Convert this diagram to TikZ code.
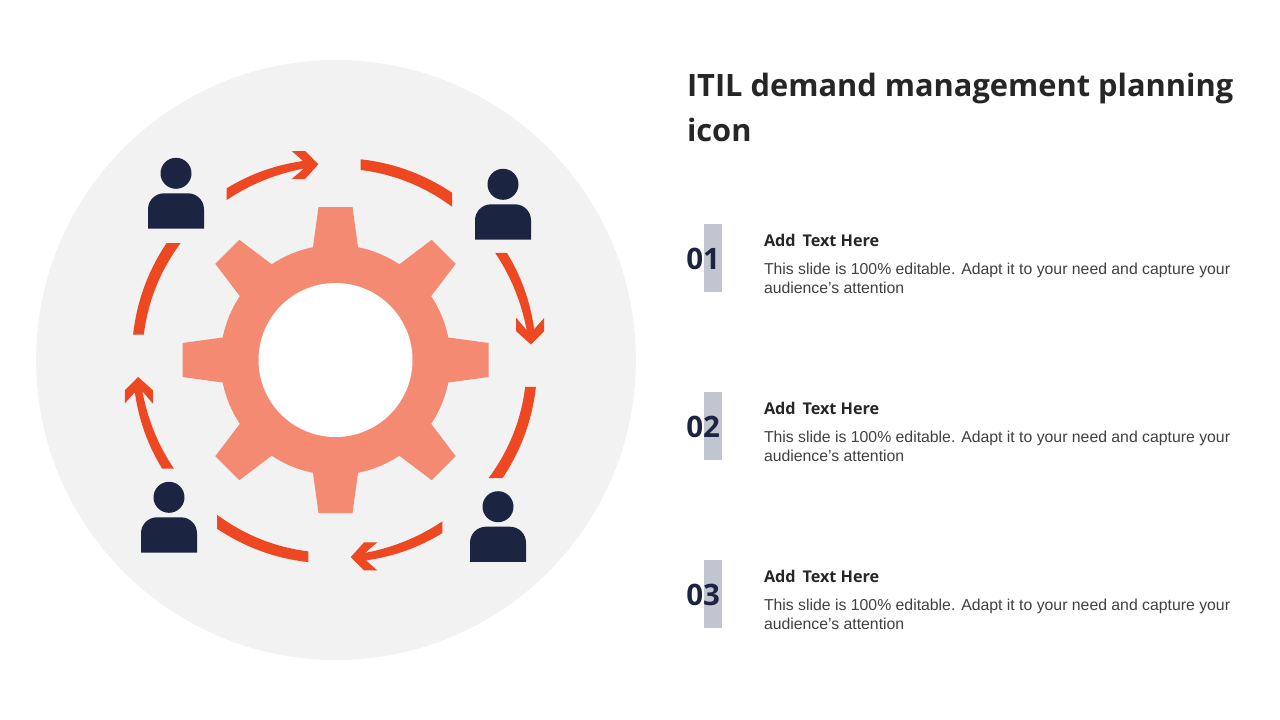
\documentclass[tikz,border=0pt]{standalone}
\usepackage{fontspec}
\setmainfont{Liberation Sans}
\newfontfamily\headfont{Open Sans}
\usepackage{xcolor}
\usetikzlibrary{positioning}

\definecolor{discgray}{HTML}{F2F2F2}
\definecolor{gearsalmon}{HTML}{F58A73}
\definecolor{floworange}{HTML}{EE4822}
\definecolor{navy}{HTML}{1B2441}
\definecolor{barblue}{HTML}{C1C5D0}
\definecolor{inkdark}{HTML}{262626}
\definecolor{inkgray}{HTML}{404040}

\begin{document}
\begin{tikzpicture}[
    x=1pt, y=-1pt,
    every node/.style={inner sep=0pt, outer sep=0pt},
    flow/.style={fill=floworange, draw=none},
    gearpart/.style={fill=gearsalmon, draw=none},
    titletext/.style={anchor=base west, align=left, text=inkdark, font=\headfont\bfseries\fontsize{30.8}{45}\selectfont},
    numtext/.style={anchor=base east, text=navy, font=\headfont\bfseries\fontsize{29.5}{36}\selectfont},
    headtext/.style={anchor=base west, text=inkdark, font=\headfont\bfseries\fontsize{16.2}{20}\selectfont},
    bodytext/.style={anchor=base west, align=left, text=inkgray, font=\fontsize{15.8}{19}\selectfont},
    person/.pic={
        \fill[navy] (0,0) circle[radius=15.5];
        \fill[navy] (-28,55.2) -- (-28,36) arc[start angle=180, end angle=270, radius=16]
            -- (12,20) arc[start angle=270, end angle=360, radius=16] -- (28,55.2) -- cycle;
    }
]
\useasboundingbox (0,0) rectangle (1280,720);

% Disc
\fill[discgray] (336,360) circle[radius=300];

% Gear
\coordinate (G) at (335.5,360);
\fill[gearpart] (G) circle[radius=115];
\foreach \ang in {0,45,...,315} {
    \fill[gearpart, shift={(G)}, rotate=\ang] (-22.5,-105) -- (-22.5,-113) -- (-17,-153) -- (17,-153) -- (22.5,-113) -- (22.5,-105) -- cycle;
}
\fill[white] (G) circle[radius=77];

% Arrows, one quarter turned four times
\coordinate (R) at (334.5,360.7);
\foreach \ang in {0,-90,-180,-270} {
    \begin{scope}[rotate around={\ang:(R)}]
        \fill[flow] (226.7,188.3) .. controls (250,174) and (275.1,165) .. (303,161) -- (291.7,151) -- (305,151)
            -- (318.3,164.3) -- (305,179) -- (291.7,179) -- (304,168.5)
            .. controls (275.3,174) and (249.8,184.5) .. (226.7,200) -- cycle;
        \fill[flow] (360.7,159.3) .. controls (393.9,163) and (424.3,174.2) .. (452,192.7) -- (452,206.7)
            .. controls (424.6,186.4) and (394.2,174.2) .. (360.7,170) -- cycle;
    \end{scope}
}

% People
\pic (personA) at (176,173.3) {person};
\pic (personB) at (503,184.3) {person};
\pic (personC) at (169,497.3) {person};
\pic (personD) at (498,506.7) {person};

% Title
\node[titletext] (title) at (687,141) {ITIL demand management planning\\icon};

% Items
\foreach \n/\y in {01/224,02/392,03/560} {
    \fill[barblue] (704,\y) rectangle (722,\y+68);
    \node[numtext] (num\n) at (720,\y+45) {\n};
    \node[headtext] (head\n) at (764,\y+22) {Add\, Text Here};
    \node[bodytext] (body\n) at (764,\y+69) {This slide is 100\% editable. Adapt it to your need and capture your\\audience’s attention};
}
\end{tikzpicture}
\end{document}
